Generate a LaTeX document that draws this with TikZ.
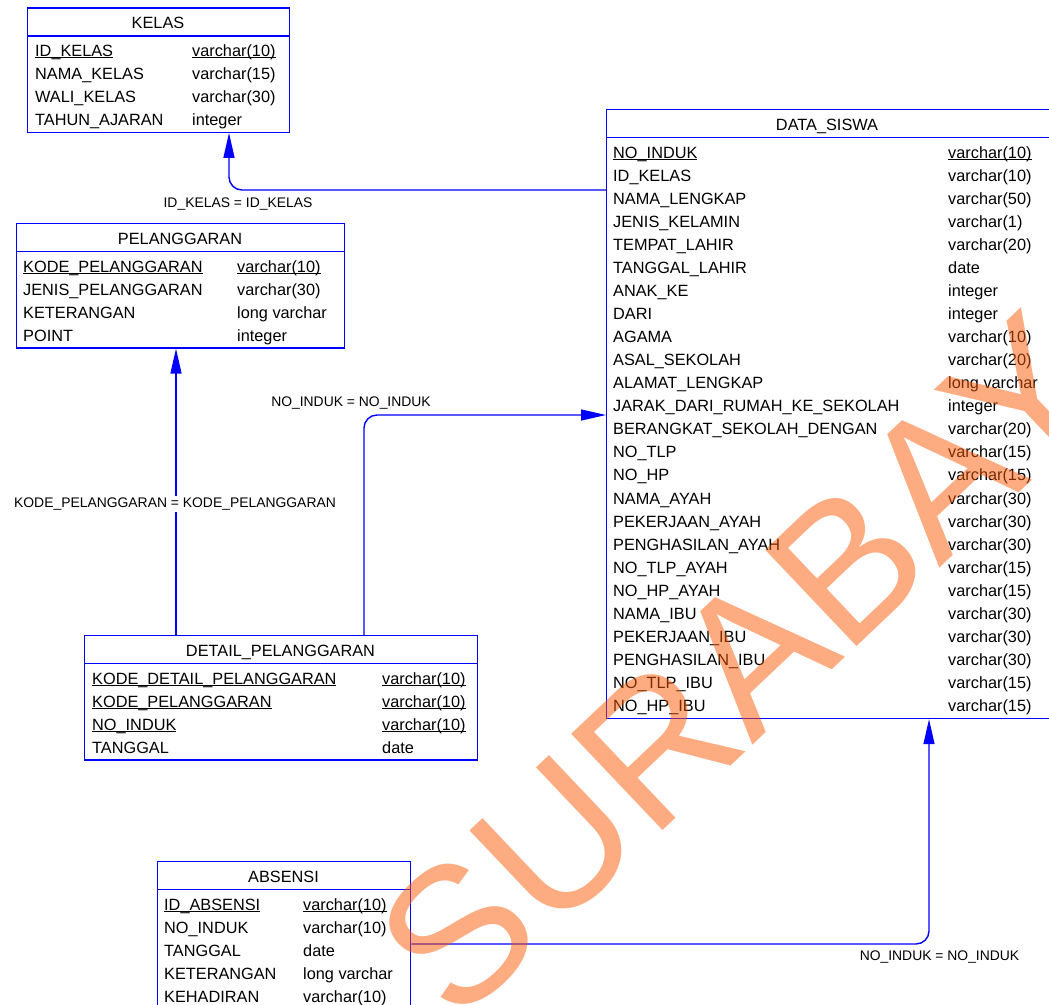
\documentclass[tikz,border=0pt]{standalone}
\usepackage{fontspec}
\setmainfont{Liberation Sans}
\usetikzlibrary{arrows.meta}
\definecolor{erdblue}{RGB}{0,0,255}
\definecolor{wmorange}{RGB}{251,89,5}
\newcommand{\pkey}[1]{\setbox0=\hbox{#1}\rlap{\rule[-1.9pt]{\wd0}{1.1pt}}\box0}

\begin{document}
\begin{tikzpicture}[x=1pt,y=-1pt,font=\fontsize{16.3}{19}\selectfont,
  erd/.style={draw=erdblue,line width=1.4pt},
  tbl/.style={erd,rectangle,anchor=north west,inner sep=0pt},
  ttl/.style={anchor=base,inner sep=0pt},
  fld/.style={anchor=base west,inner sep=0pt},
  fk/.style={erdblue,line width=1.4pt,rounded corners=13pt,-{Triangle[length=25pt,width=11pt]}},
  rel/.style={font=\fontsize{13.9}{16}\selectfont,inner sep=1.5pt},
  wmark/.style={text=wmorange,text opacity=0.5,rotate=43.5,inner sep=0pt,font=\fontsize{193}{193}\selectfont}]
\useasboundingbox (0,0) rectangle (1049,1004);
\clip (0,0) rectangle (1049,1004);
% ---------- KELAS ----------
\begin{scope}[shift={(27,7.3)}]
\node[tbl,minimum width=262,minimum height=124.2] (kelas) at (0,0) {};
\draw[erd] (0,28.5) -- (262,28.5);
\node[ttl] (kelas-t) at (131,21.6) {KELAS};
\foreach \nm/\tp [count=\i from 0] in {{\pkey{ID\_KELAS}}/{\pkey{varchar(10)}},
    NAMA\_KELAS/varchar(15), WALI\_KELAS/varchar(30), TAHUN\_AJARAN/integer}{
  \node[fld] (kelas-n\i) at (8,{49+23*\i}) {\nm};
  \node[fld] (kelas-d\i) at (165,{49+23*\i}) {\tp};
}
\end{scope}
% ---------- PELANGGARAN ----------
\begin{scope}[shift={(16,223)}]
\node[tbl,minimum width=328,minimum height=124.2] (pelanggaran) at (0,0) {};
\draw[erd] (0,28.5) -- (328,28.5);
\node[ttl] (pelanggaran-t) at (164,21.6) {PELANGGARAN};
\foreach \nm/\tp [count=\i from 0] in {{\pkey{KODE\_PELANGGARAN}}/{\pkey{varchar(10)}},
    JENIS\_PELANGGARAN/varchar(30), KETERANGAN/long varchar, POINT/integer}{
  \node[fld] (pelanggaran-n\i) at (7,{49+23*\i}) {\nm};
  \node[fld] (pelanggaran-d\i) at (221,{49+23*\i}) {\tp};
}
\end{scope}
% ---------- DATA_SISWA ----------
\begin{scope}[shift={(606,109)}]
\node[tbl,minimum width=460,minimum height=608.8] (siswa) at (0,0) {};
\draw[erd] (0,28.5) -- (460,28.5);
\node[ttl] (siswa-t) at (221,21.6) {DATA\_SISWA};
\foreach \nm/\tp [count=\i from 0] in {{\pkey{NO\_INDUK}}/{\pkey{varchar(10)}},
    ID\_KELAS/varchar(10), NAMA\_LENGKAP/varchar(50), JENIS\_KELAMIN/varchar(1),
    TEMPAT\_LAHIR/varchar(20), TANGGAL\_LAHIR/date, ANAK\_KE/integer, DARI/integer,
    AGAMA/varchar(10), ASAL\_SEKOLAH/varchar(20), ALAMAT\_LENGKAP/long varchar,
    JARAK\_DARI\_RUMAH\_KE\_SEKOLAH/integer, BERANGKAT\_SEKOLAH\_DENGAN/varchar(20),
    NO\_TLP/varchar(15), NO\_HP/varchar(15), NAMA\_AYAH/varchar(30),
    PEKERJAAN\_AYAH/varchar(30), PENGHASILAN\_AYAH/varchar(30), NO\_TLP\_AYAH/varchar(15),
    NO\_HP\_AYAH/varchar(15), NAMA\_IBU/varchar(30), PEKERJAAN\_IBU/varchar(30),
    PENGHASILAN\_IBU/varchar(30), NO\_TLP\_IBU/varchar(15), NO\_HP\_IBU/varchar(15)}{
  \node[fld] (siswa-n\i) at (7,{49+23.07*\i}) {\nm};
  \node[fld] (siswa-d\i) at (342,{49+23.07*\i}) {\tp};
}
\end{scope}
% ---------- DETAIL_PELANGGARAN ----------
\begin{scope}[shift={(84,635)}]
\node[tbl,minimum width=393,minimum height=124.2] (detail) at (0,0) {};
\draw[erd] (0,28.5) -- (393,28.5);
\node[ttl] (detail-t) at (196.5,21.6) {DETAIL\_PELANGGARAN};
\foreach \nm/\tp [count=\i from 0] in {{\pkey{KODE\_DETAIL\_PELANGGARAN}}/{\pkey{varchar(10)}},
    {\pkey{KODE\_PELANGGARAN}}/{\pkey{varchar(10)}}, {\pkey{NO\_INDUK}}/{\pkey{varchar(10)}},
    TANGGAL/date}{
  \node[fld] (detail-n\i) at (8,{49+23*\i}) {\nm};
  \node[fld] (detail-d\i) at (298,{49+23*\i}) {\tp};
}
\end{scope}
% ---------- ABSENSI ----------
\begin{scope}[shift={(157,861)}]
\node[tbl,minimum width=253,minimum height=147.2] (absensi) at (0,0) {};
\draw[erd] (0,28.5) -- (253,28.5);
\node[ttl] (absensi-t) at (126.5,21.6) {ABSENSI};
\foreach \nm/\tp [count=\i from 0] in {{\pkey{ID\_ABSENSI}}/{\pkey{varchar(10)}},
    NO\_INDUK/varchar(10), TANGGAL/date, KETERANGAN/long varchar, KEHADIRAN/varchar(10)}{
  \node[fld] (absensi-n\i) at (7,{49+23*\i}) {\nm};
  \node[fld] (absensi-d\i) at (146,{49+23*\i}) {\tp};
}
\end{scope}
% ---------- references ----------
\draw[fk] (siswa.west |- 0,190) -| (kelas.south -| 229,0);
\node[rel] (r-kelas) at (238,204) {ID\_KELAS = ID\_KELAS};
\draw[fk] (detail.north -| 176,0) -- (pelanggaran.south -| 176,0);
\node[rel,fill=white] (r-pelanggaran) at (175,504) {KODE\_PELANGGARAN = KODE\_PELANGGARAN};
\draw[fk] (detail.north -| 364,0) |- (siswa.west |- 0,415);
\node[rel] (r-detail) at (351,403) {NO\_INDUK = NO\_INDUK};
\draw[fk] (absensi.east |- 0,944) -| (siswa.south -| 929,0);
\node[rel] (r-absensi) at (939.5,957) {NO\_INDUK = NO\_INDUK};
% watermark
\node[wmark] (wm) at (782,626) {SURABAYA};
\end{tikzpicture}
\end{document}
